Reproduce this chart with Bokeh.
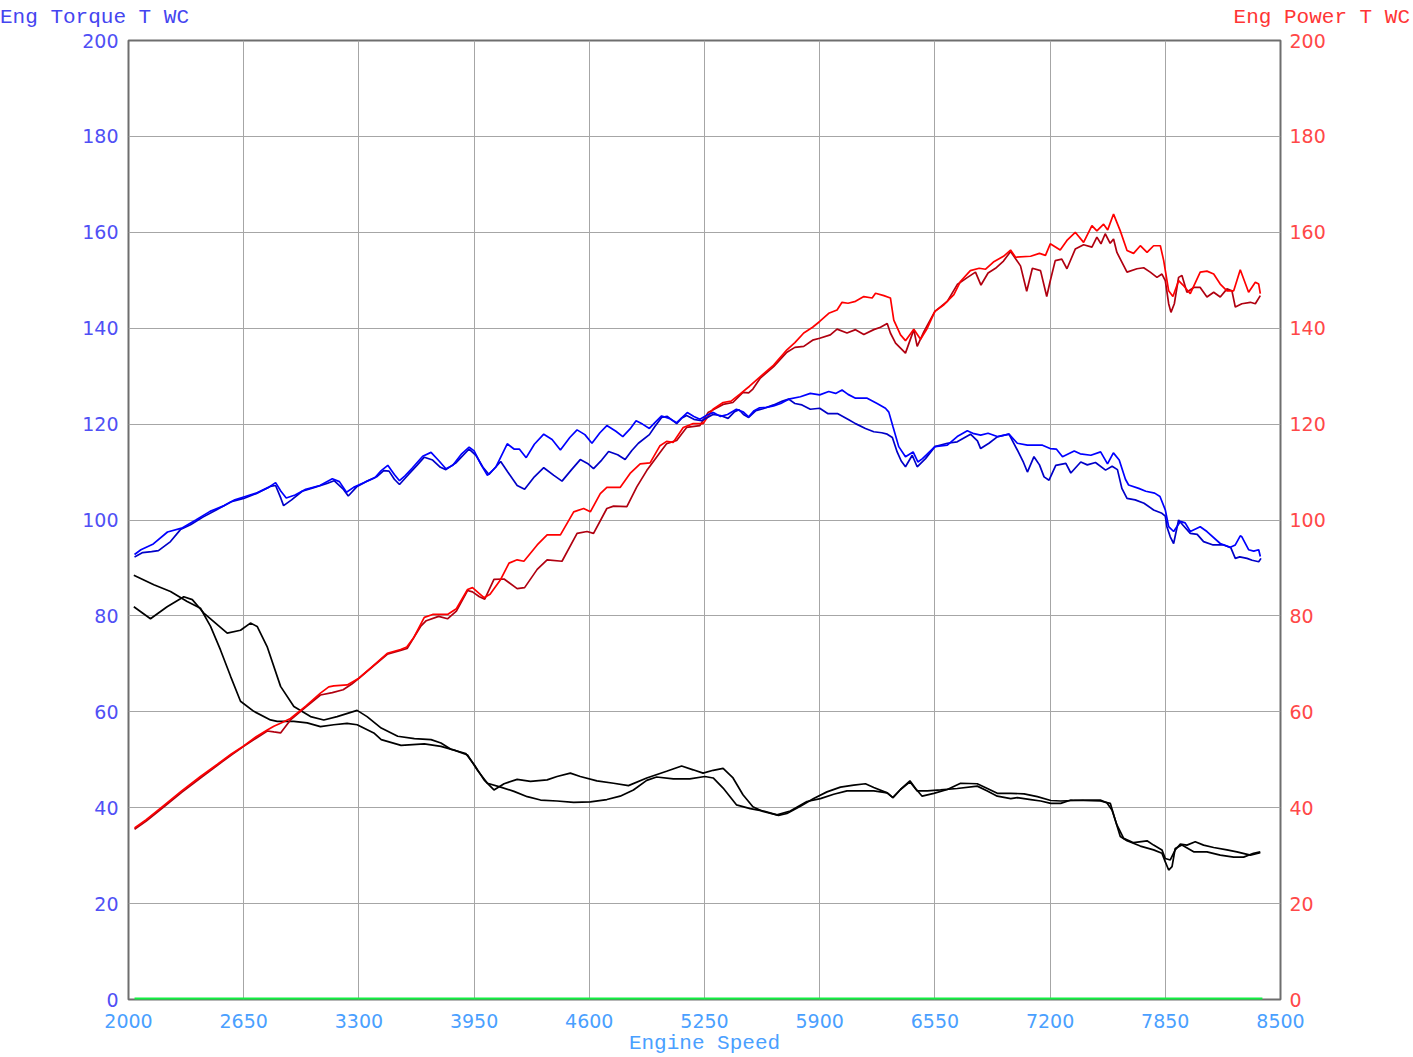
from bokeh.plotting import figure
from bokeh.models import Range1d, LinearAxis, FixedTicker, Div
from bokeh.layouts import column
from bokeh.embed import file_html
from bokeh.resources import INLINE

# ---------------- data ----------------
x_ticks = [2000, 2650, 3300, 3950, 4600, 5250, 5900, 6550, 7200, 7850, 8500]
y_ticks = [0, 20, 40, 60, 80, 100, 120, 140, 160, 180, 200]

left_title = "Eng Torque T WC"
right_title = "Eng Power T WC"
x_title = "Engine Speed"

torque_a_rpm = [2034, 2070, 2140, 2220, 2300, 2380, 2460, 2540, 2600, 2650, 2720, 2790, 2830, 2860, 2890, 2940, 3000, 3080, 3150, 3190, 3230, 3270, 3330, 3390, 3426, 3463, 3500, 3529, 3560, 3600, 3660, 3707, 3750, 3791, 3830, 3880, 3922, 3950, 3990, 4025, 4072, 4137, 4175, 4205, 4244, 4290, 4343, 4390, 4437, 4490, 4531, 4575, 4615, 4660, 4699, 4750, 4789, 4830, 4864, 4900, 4939, 4970, 5008, 5050, 5093, 5153, 5190, 5224, 5270, 5300, 5340, 5380, 5430, 5470, 5499, 5530, 5561, 5600, 5640, 5680, 5725, 5791, 5847, 5900, 5951, 5990, 6026, 6060, 6102, 6168, 6224, 6271, 6290, 6314, 6346, 6384, 6427, 6454, 6480, 6550, 6620, 6676, 6733, 6770, 6808, 6850, 6902, 6968, 7015, 7072, 7157, 7200, 7235, 7270, 7336, 7370, 7430, 7485, 7524, 7557, 7590, 7625, 7643, 7700, 7740, 7790, 7820, 7850, 7869, 7897, 7935, 7962, 7991, 8047, 8085, 8160, 8217, 8245, 8273, 8282, 8320, 8349, 8377, 8386]
torque_a = [92.8, 93.8, 95.0, 97.5, 98.3, 100.0, 101.8, 103.0, 104.2, 104.8, 105.6, 106.8, 107.8, 106.0, 104.6, 105.2, 106.4, 107.2, 108.6, 108.0, 105.8, 106.8, 107.8, 108.8, 110.3, 111.4, 109.5, 108.2, 109.2, 110.8, 113.3, 114.1, 112.4, 110.7, 111.4, 113.8, 115.2, 114.4, 111.5, 109.3, 111.0, 115.9, 114.8, 114.8, 113.0, 115.8, 117.9, 116.8, 114.6, 117.2, 118.8, 117.8, 116.0, 118.2, 119.7, 118.5, 117.4, 119.0, 120.7, 120.0, 119.1, 120.3, 121.7, 121.2, 120.3, 122.4, 121.6, 121.0, 122.0, 122.4, 121.6, 122.0, 123.1, 122.5, 121.5, 122.8, 123.4, 123.5, 123.8, 124.3, 125.2, 125.7, 126.4, 126.1, 126.8, 126.4, 127.1, 126.2, 125.4, 125.4, 124.3, 123.3, 122.5, 119.4, 115.3, 113.2, 114.2, 112.1, 112.8, 115.3, 115.6, 117.4, 118.6, 118.0, 117.7, 118.1, 117.4, 117.9, 116.0, 115.6, 115.6, 114.9, 114.8, 113.2, 114.4, 113.8, 113.5, 114.2, 111.7, 114.0, 112.5, 108.5, 107.3, 106.6, 106.0, 105.6, 104.9, 102.1, 98.6, 97.6, 99.7, 99.4, 97.6, 98.6, 97.6, 95.1, 94.3, 94.8, 96.7, 96.5, 93.8, 93.5, 93.8, 92.4]

torque_b_rpm = [2034, 2080, 2130, 2169, 2237, 2293, 2350, 2420, 2500, 2580, 2650, 2720, 2800, 2830, 2860, 2875, 2920, 2980, 3050, 3120, 3160, 3210, 3240, 3290, 3340, 3400, 3440, 3470, 3500, 3529, 3580, 3630, 3669, 3716, 3760, 3791, 3850, 3922, 3960, 4000, 4034, 4100, 4140, 4193, 4235, 4290, 4343, 4400, 4446, 4500, 4549, 4590, 4624, 4670, 4709, 4760, 4802, 4840, 4877, 4939, 4970, 5008, 5040, 5093, 5120, 5149, 5190, 5233, 5298, 5340, 5383, 5420, 5445, 5470, 5499, 5540, 5580, 5640, 5690, 5725, 5760, 5800, 5847, 5900, 5945, 6000, 6064, 6102, 6158, 6205, 6250, 6281, 6310, 6337, 6360, 6384, 6422, 6450, 6497, 6550, 6620, 6676, 6751, 6790, 6808, 6855, 6900, 6968, 7015, 7050, 7072, 7109, 7140, 7166, 7194, 7232, 7289, 7317, 7373, 7410, 7456, 7513, 7550, 7580, 7605, 7634, 7680, 7730, 7784, 7831, 7850, 7859, 7878, 7897, 7925, 7950, 7991, 8030, 8066, 8120, 8179, 8220, 8245, 8270, 8311, 8340, 8377, 8390]
torque_b = [92.3, 93.2, 93.4, 93.6, 95.5, 98.0, 99.0, 100.6, 102.2, 103.8, 104.5, 105.5, 107.0, 107.2, 104.5, 103.0, 104.2, 106.0, 106.8, 107.6, 108.2, 106.5, 105.0, 107.0, 108.0, 109.0, 110.3, 110.2, 108.5, 107.4, 109.5, 111.5, 113.1, 112.5, 111.0, 110.5, 112.0, 114.8, 113.5, 111.0, 109.5, 112.2, 110.0, 107.2, 106.4, 109.0, 110.9, 109.3, 108.1, 110.5, 112.6, 111.8, 110.7, 112.5, 114.3, 113.6, 112.6, 114.5, 116.0, 117.8, 119.5, 121.4, 121.6, 120.1, 121.2, 121.8, 121.0, 120.7, 122.0, 121.8, 121.2, 122.6, 123.0, 122.0, 121.4, 122.8, 123.2, 124.0, 124.8, 125.2, 124.3, 124.0, 123.1, 123.3, 122.2, 122.2, 120.9, 120.1, 119.1, 118.4, 118.2, 117.9, 117.2, 114.2, 112.3, 111.1, 113.5, 111.1, 112.8, 115.3, 116.0, 116.3, 117.9, 116.5, 114.9, 116.0, 117.3, 117.9, 114.6, 112.0, 110.0, 113.2, 111.5, 109.0, 108.3, 111.4, 111.8, 109.8, 112.1, 111.5, 112.0, 110.4, 111.2, 110.5, 106.6, 104.5, 104.2, 103.5, 102.1, 101.4, 100.8, 98.6, 96.5, 95.1, 100.0, 98.9, 97.2, 97.0, 95.5, 94.8, 94.8, 94.2, 92.0, 92.3, 92.0, 91.6, 91.3, 92.0]

power_a_rpm = [2034, 2100, 2200, 2300, 2406, 2500, 2580, 2650, 2720, 2783, 2820, 2858, 2914, 3000, 3083, 3130, 3158, 3234, 3300, 3380, 3460, 3535, 3570, 3610, 3669, 3716, 3800, 3850, 3913, 3941, 3975, 4006, 4040, 4100, 4147, 4193, 4231, 4306, 4362, 4437, 4512, 4568, 4606, 4662, 4699, 4774, 4830, 4887, 4943, 4999, 5036, 5074, 5130, 5186, 5242, 5298, 5355, 5400, 5448, 5504, 5565, 5640, 5715, 5760, 5810, 5860, 5900, 5951, 5998, 6026, 6060, 6102, 6149, 6196, 6215, 6262, 6299, 6318, 6356, 6384, 6431, 6469, 6507, 6550, 6601, 6657, 6695, 6750, 6800, 6836, 6880, 6937, 6977, 7005, 7090, 7140, 7174, 7201, 7257, 7295, 7342, 7389, 7436, 7464, 7502, 7525, 7558, 7596, 7634, 7671, 7709, 7747, 7784, 7822, 7841, 7869, 7893, 7925, 7950, 7991, 8047, 8085, 8123, 8160, 8198, 8236, 8273, 8320, 8358, 8377, 8386]
power_a = [35.8, 37.5, 40.5, 43.5, 46.5, 49.0, 51.2, 52.9, 54.8, 56.2, 57.0, 57.6, 58.6, 61.2, 63.9, 65.2, 65.4, 65.6, 67.0, 69.6, 72.2, 73.0, 73.5, 75.5, 79.7, 80.3, 80.3, 81.5, 85.5, 85.9, 84.8, 83.8, 84.5, 87.6, 91.0, 91.7, 91.4, 94.8, 96.9, 96.9, 101.7, 102.4, 101.7, 105.5, 106.8, 106.8, 109.7, 111.7, 111.9, 115.5, 116.4, 116.2, 119.3, 120.1, 120.1, 123.1, 124.5, 124.8, 126.2, 127.9, 129.9, 132.3, 135.5, 137.0, 139.0, 140.2, 141.4, 143.1, 143.8, 145.4, 145.2, 145.6, 146.6, 146.3, 147.3, 146.8, 146.3, 141.7, 138.6, 137.4, 139.8, 137.7, 140.0, 143.5, 144.9, 147.0, 149.8, 152.0, 152.5, 152.3, 153.8, 155.0, 156.3, 154.8, 155.0, 155.6, 155.2, 157.6, 156.3, 158.3, 160.0, 157.9, 161.4, 160.3, 161.7, 160.5, 163.8, 160.3, 156.2, 155.6, 157.2, 155.8, 157.2, 157.2, 154.1, 147.8, 146.6, 149.9, 149.0, 147.2, 151.7, 151.9, 151.3, 149.2, 147.8, 147.8, 152.2, 147.5, 149.6, 149.2, 147.2]

power_b_rpm = [2034, 2100, 2200, 2300, 2406, 2500, 2580, 2650, 2720, 2783, 2820, 2858, 2914, 3000, 3083, 3150, 3211, 3260, 3300, 3380, 3460, 3535, 3572, 3648, 3680, 3750, 3800, 3850, 3913, 3941, 3980, 4010, 4062, 4119, 4193, 4235, 4306, 4362, 4446, 4531, 4587, 4624, 4699, 4737, 4812, 4868, 4924, 4999, 5036, 5093, 5149, 5224, 5270, 5355, 5410, 5467, 5499, 5523, 5565, 5640, 5715, 5760, 5810, 5860, 5900, 5960, 5998, 6054, 6102, 6149, 6205, 6243, 6281, 6299, 6328, 6384, 6431, 6450, 6488, 6550, 6620, 6676, 6730, 6779, 6810, 6850, 6892, 6937, 6977, 7033, 7068, 7100, 7146, 7181, 7201, 7229, 7266, 7295, 7342, 7389, 7436, 7464, 7487, 7511, 7539, 7558, 7577, 7605, 7634, 7690, 7728, 7765, 7803, 7831, 7850, 7869, 7882, 7901, 7925, 7944, 7972, 8010, 8047, 8085, 8123, 8160, 8198, 8226, 8245, 8282, 8330, 8358, 8386]
power_b = [35.5, 37.2, 40.2, 43.2, 46.2, 48.8, 51.0, 52.8, 54.5, 56.0, 55.8, 55.6, 58.3, 61.0, 63.5, 64.0, 64.6, 65.8, 67.0, 69.5, 72.0, 72.8, 73.2, 77.8, 79.0, 79.9, 79.4, 81.0, 85.3, 85.0, 84.0, 83.5, 87.6, 87.7, 85.7, 85.9, 89.7, 91.7, 91.4, 97.2, 97.6, 97.2, 102.4, 102.9, 102.8, 106.9, 110.3, 114.1, 115.9, 116.6, 119.3, 119.7, 122.4, 124.1, 124.5, 126.6, 126.5, 127.3, 129.6, 132.0, 135.0, 136.0, 136.2, 137.5, 137.9, 138.6, 139.8, 139.0, 139.7, 138.7, 139.7, 140.2, 141.0, 139.0, 136.9, 134.8, 139.7, 136.2, 139.3, 143.5, 145.6, 149.1, 150.5, 151.7, 149.0, 151.5, 152.5, 154.0, 156.0, 153.0, 147.7, 152.5, 152.0, 146.6, 149.9, 154.1, 154.4, 152.4, 156.5, 157.4, 156.9, 159.0, 157.6, 159.7, 157.7, 158.6, 155.8, 153.8, 151.7, 152.4, 152.6, 151.7, 150.6, 151.3, 149.9, 145.1, 143.3, 145.1, 150.6, 151.0, 147.5, 148.5, 148.5, 146.5, 147.5, 146.5, 148.2, 147.8, 144.4, 145.1, 145.4, 145.1, 146.8]

black1_rpm = [2030, 2143, 2237, 2331, 2406, 2463, 2519, 2576, 2632, 2707, 2801, 2839, 2933, 3008, 3083, 3158, 3233, 3290, 3384, 3426, 3538, 3669, 3763, 3838, 3913, 3969, 4025, 4100, 4175, 4250, 4325, 4418, 4512, 4606, 4699, 4774, 4849, 4924, 4980, 5074, 5167, 5252, 5299, 5355, 5430, 5508, 5584, 5659, 5734, 5828, 5904, 5979, 6054, 6129, 6205, 6281, 6313, 6356, 6409, 6450, 6507, 6582, 6676, 6789, 6846, 6902, 6978, 7015, 7091, 7147, 7204, 7260, 7317, 7389, 7483, 7540, 7568, 7596, 7634, 7709, 7784, 7831, 7850, 7869, 7888, 7906, 7944, 8010, 8085, 8160, 8236, 8292, 8348, 8386]
black1 = [88.5, 86.5, 85.1, 83.0, 81.6, 77.8, 72.9, 67.4, 62.2, 60.1, 58.3, 58.0, 58.0, 57.7, 56.9, 57.3, 57.6, 57.3, 55.6, 54.2, 53.0, 53.3, 52.8, 52.0, 51.0, 47.8, 45.1, 44.3, 43.4, 42.3, 41.6, 41.4, 41.1, 41.2, 41.7, 42.4, 43.7, 45.7, 46.4, 46.0, 46.0, 46.5, 46.2, 44.1, 40.6, 39.8, 39.3, 38.5, 39.3, 41.3, 41.9, 42.8, 43.5, 43.5, 43.5, 43.1, 42.1, 43.8, 45.4, 43.5, 43.5, 43.7, 44.0, 44.5, 43.5, 42.4, 41.9, 42.1, 41.7, 41.4, 40.9, 40.9, 41.6, 41.5, 41.4, 40.9, 37.4, 34.0, 33.1, 32.0, 31.2, 30.5, 28.7, 27.0, 27.7, 31.5, 32.2, 30.8, 30.8, 30.1, 29.7, 29.7, 30.5, 30.8]

black2_rpm = [2030, 2124, 2218, 2312, 2360, 2425, 2557, 2632, 2688, 2726, 2782, 2858, 2933, 3027, 3102, 3177, 3290, 3346, 3426, 3519, 3613, 3707, 3763, 3819, 3903, 3950, 4006, 4062, 4119, 4193, 4268, 4362, 4418, 4493, 4549, 4643, 4737, 4821, 4924, 5036, 5121, 5186, 5242, 5299, 5355, 5411, 5467, 5523, 5580, 5668, 5715, 5791, 5866, 5941, 6017, 6092, 6158, 6205, 6281, 6313, 6356, 6409, 6441, 6478, 6544, 6620, 6695, 6789, 6846, 6902, 6978, 7053, 7128, 7204, 7260, 7336, 7389, 7483, 7521, 7549, 7577, 7615, 7671, 7747, 7784, 7831, 7850, 7878, 7906, 7935, 7972, 8019, 8066, 8123, 8198, 8254, 8330, 8386]
black2 = [81.9, 79.4, 81.9, 84.0, 83.4, 80.6, 76.4, 77.0, 78.5, 77.8, 73.6, 65.3, 61.1, 59.0, 58.3, 59.0, 60.3, 59.0, 56.6, 54.9, 54.4, 54.2, 53.5, 52.2, 51.3, 49.0, 45.8, 43.7, 45.0, 45.9, 45.5, 45.8, 46.5, 47.2, 46.5, 45.6, 45.1, 44.6, 46.2, 47.6, 48.7, 47.9, 47.2, 47.8, 48.2, 46.2, 42.7, 40.2, 39.2, 38.4, 38.8, 40.3, 41.9, 43.3, 44.3, 44.7, 45.0, 44.2, 43.1, 42.1, 43.8, 45.6, 44.0, 42.4, 43.0, 43.8, 45.1, 45.0, 44.0, 43.0, 43.0, 42.9, 42.3, 41.5, 41.4, 41.5, 41.6, 41.6, 41.0, 39.5, 36.4, 33.6, 32.7, 33.1, 32.2, 31.2, 29.4, 29.1, 31.2, 32.4, 32.2, 32.9, 32.2, 31.7, 31.2, 30.8, 30.1, 30.6]

zero_rpm = [2034, 8398]
zero_val = [0, 0]

# ---------------- figure ----------------
MONO = "Liberation Mono"
SANS = "DejaVu Sans"
HEAD_H = 30

head = Div(
    text=(
        '<div style="position:relative;width:1413px;height:%dpx;overflow:hidden;'
        'font-family:\'Liberation Mono\',monospace;font-size:21px;white-space:nowrap;">'
        '<span style="position:absolute;left:0px;top:7px;line-height:21px;color:#4545f0;">%s</span>'
        '<span style="position:absolute;right:3px;top:7px;line-height:21px;color:#ff3535;">%s</span>'
        '</div>' % (HEAD_H, left_title, right_title)
    ),
    width=1413, height=HEAD_H, margin=(0, 0, 0, 0),
)

p = figure(width=1408, height=1057 - HEAD_H, output_backend="svg", toolbar_location=None,
           x_range=Range1d(2000, 8500), y_range=Range1d(0, 200),
           min_border_left=128, min_border_right=128, min_border_top=40 - HEAD_H,
           min_border_bottom=57, x_axis_location=None, y_axis_location=None,
           margin=(0, 0, 0, 0))
p.background_fill_color = "white"
p.border_fill_color = "white"
p.outline_line_color = "#6e6e6e"
p.outline_line_width = 2

xaxis = LinearAxis(ticker=FixedTicker(ticks=x_ticks), axis_label=x_title)
yaxis_l = LinearAxis(ticker=FixedTicker(ticks=y_ticks))
yaxis_r = LinearAxis(ticker=FixedTicker(ticks=y_ticks))
for ax, col in ((xaxis, "#4aa0ff"), (yaxis_l, "#5050f5"), (yaxis_r, "#ff4848")):
    ax.axis_line_color = None
    ax.major_tick_line_color = None
    ax.minor_tick_line_color = None
    ax.major_tick_out = 0
    ax.major_tick_in = 0
    ax.major_label_text_color = col
    ax.major_label_text_font = SANS
    ax.major_label_text_font_size = "19px"
xaxis.major_label_standoff = 14
xaxis.axis_label_standoff = 1
xaxis.axis_label_text_font = MONO
xaxis.axis_label_text_font_size = "21px"
xaxis.axis_label_text_font_style = "normal"
xaxis.axis_label_text_color = "#4aa0ff"
yaxis_l.major_label_standoff = 10
yaxis_r.major_label_standoff = 9
p.add_layout(xaxis, "below")
p.add_layout(yaxis_l, "left")
p.add_layout(yaxis_r, "right")

p.xgrid.ticker = FixedTicker(ticks=x_ticks)
p.ygrid.ticker = FixedTicker(ticks=y_ticks)
p.xgrid.grid_line_color = "#a6a6a6"
p.ygrid.grid_line_color = "#a6a6a6"

# ---------------- series ----------------
LW = 1.7
p.line(zero_rpm, zero_val, line_color="#10f040", line_width=4)
p.line(black1_rpm, black1, line_color="#000000", line_width=LW)
p.line(black2_rpm, black2, line_color="#000000", line_width=LW)
p.line(power_b_rpm, power_b, line_color="#b00010", line_width=LW)
p.line(power_a_rpm, power_a, line_color="#ff0000", line_width=LW)
p.line(torque_b_rpm, torque_b, line_color="#0000c8", line_width=LW)
p.line(torque_a_rpm, torque_a, line_color="#0000ff", line_width=LW)

layout = column(head, p, spacing=0, margin=(0, 0, 0, 0))
open("out.html", "w").write(file_html(layout, INLINE))
